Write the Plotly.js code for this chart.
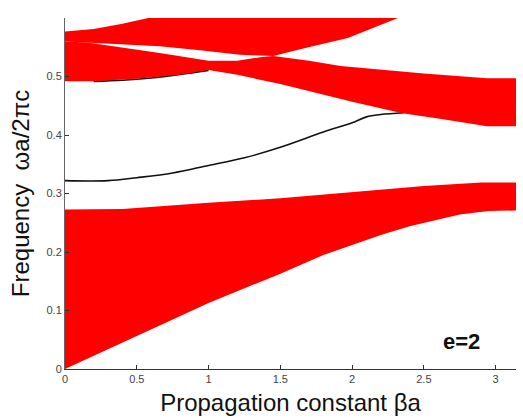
<!DOCTYPE html>
<html>
<head>
<meta charset="utf-8">
<script src="https://cdn.plot.ly/plotly-3.0.1.min.js"></script>
<style>html,body{margin:0;padding:0;background:#fff;}#chart{width:523px;height:418px;}</style>
</head>
<body>
<div id="chart"></div>
<script>
var PI = Math.PI;
// Band 1 (lowest) edges
var band1LowerX = [0, 0.5, 1.0, 1.5, 1.8, 2.0, 2.2, 2.4, 2.6, 2.75, 2.95, 3.1, PI];
var band1LowerY = [0, 0.056, 0.113, 0.163, 0.195, 0.212, 0.229, 0.244, 0.256, 0.264, 0.27, 0.271, 0.271];
var band1UpperX = [0, 0.4, 1.0, 1.5, 2.0, 2.5, 2.9, PI];
var band1UpperY = [0.2725, 0.2735, 0.284, 0.292, 0.303, 0.313, 0.319, 0.319];

// Crossing band (middle) edges
var bandBUpperX = [0, 0.155, 0.66, 1.0, 1.2, 1.36, 1.45, 1.7, 1.92, 2.5, 2.94, PI];
var bandBUpperY = [0.56, 0.558, 0.540, 0.527, 0.527, 0.533, 0.535, 0.527, 0.518, 0.505, 0.497, 0.497];
var bandBLowerX = [0, 0.2, 0.5, 0.8, 1.0, 1.2, 1.5, 2.0, 2.35, 2.6, 2.94, PI];
var bandBLowerY = [0.492, 0.492, 0.496, 0.503, 0.511, 0.503, 0.487, 0.457, 0.437, 0.428, 0.415, 0.415];

// Top band edges
var bandTUpperX = [0, 0.2, 0.4, 0.58, 2.32];
var bandTUpperY = [0.577, 0.581, 0.59, 0.6, 0.6];
var bandTRightX = [2.32, 2.06, 1.97, 1.71, 1.5, 1.45];
var bandTRightY = [0.6, 0.575, 0.566, 0.551, 0.539, 0.535];
var bandTLowerX = [1.22, 0.94, 0.66, 0.155, 0];
var bandTLowerY = [0.537, 0.545, 0.5515, 0.558, 0.56];

// Defect modes (black lines)
var mode1X = [0, 0.3, 0.5, 0.75, 1.0, 1.25, 1.5, 1.8, 2.0, 2.1, 2.2, 2.36];
var mode1Y = [0.322, 0.322, 0.327, 0.335, 0.348, 0.361, 0.379, 0.405, 0.421, 0.431, 0.435, 0.438];
var mode2X = [0.2, 0.4, 0.6, 0.8, 1.0];
var mode2Y = [0.4915, 0.4935, 0.4975, 0.5035, 0.5105];

var xTicks = [0, 0.5, 1, 1.5, 2, 2.5, 3];
var xTickText = ['0', '0.5', '1', '1.5', '2', '2.5', '3'];
var yTicks = [0, 0.1, 0.2, 0.3, 0.4, 0.5];
var yTickText = ['0', '0.1', '0.2', '0.3', '0.4', '0.5'];

function rev(a){ return a.slice().reverse(); }
function poly(xs, ys){
  return {x: xs, y: ys, type: 'scatter', mode: 'lines', fill: 'toself',
          fillcolor: '#ff0000', line: {width: 0, color: '#ff0000'}, hoverinfo: 'skip', showlegend: false};
}
var traces = [
  {x: mode1X, y: mode1Y, type: 'scatter', mode: 'lines', line: {color: '#111', width: 1.6, shape: 'spline'}, showlegend: false},
  {x: mode2X, y: mode2Y, type: 'scatter', mode: 'lines', line: {color: '#111', width: 1.6, shape: 'spline'}, showlegend: false},
  poly(band1LowerX.concat(rev(band1UpperX)), band1LowerY.concat(rev(band1UpperY))),
  poly(bandBUpperX.concat(rev(bandBLowerX)), bandBUpperY.concat(rev(bandBLowerY))),
  poly(bandTUpperX.concat(bandTRightX, bandTLowerX), bandTUpperY.concat(bandTRightY, bandTLowerY))
];

var layout = {
  width: 523, height: 418,
  margin: {l: 65, r: 7, t: 18, b: 49},
  paper_bgcolor: '#fff', plot_bgcolor: '#fff',
  font: {family: 'Liberation Sans, Arial, sans-serif', color: '#222'},
  showlegend: false,
  xaxis: {
    range: [0, PI], tickvals: xTicks, ticktext: xTickText,
    ticks: 'inside', ticklen: 4, tickcolor: '#333', showgrid: false, zeroline: false,
    showline: true, linecolor: '#333', linewidth: 1,
    tickfont: {size: 11, color: '#444'},
    title: {text: 'Propagation constant βa', font: {size: 24, color: '#111'}, standoff: 9}
  },
  yaxis: {
    range: [0, 0.6], tickvals: yTicks, ticktext: yTickText,
    ticks: 'inside', ticklen: 4, tickcolor: '#333', showgrid: false, zeroline: false,
    showline: true, linecolor: '#666', linewidth: 1,
    tickfont: {size: 11, color: '#444'},
    title: {text: 'Frequency  ωa/2πc', font: {size: 24, color: '#111'}, standoff: 10}
  },
  annotations: [{x: 2.76, y: 0.047, xref: 'x', yref: 'y', text: '<b>e=2</b>', showarrow: false,
                 font: {size: 22, color: '#111', family: 'Liberation Sans, Arial, sans-serif'}}]
};
Plotly.newPlot('chart', traces, layout, {displayModeBar: false, staticPlot: true});
</script>
</body>
</html>
